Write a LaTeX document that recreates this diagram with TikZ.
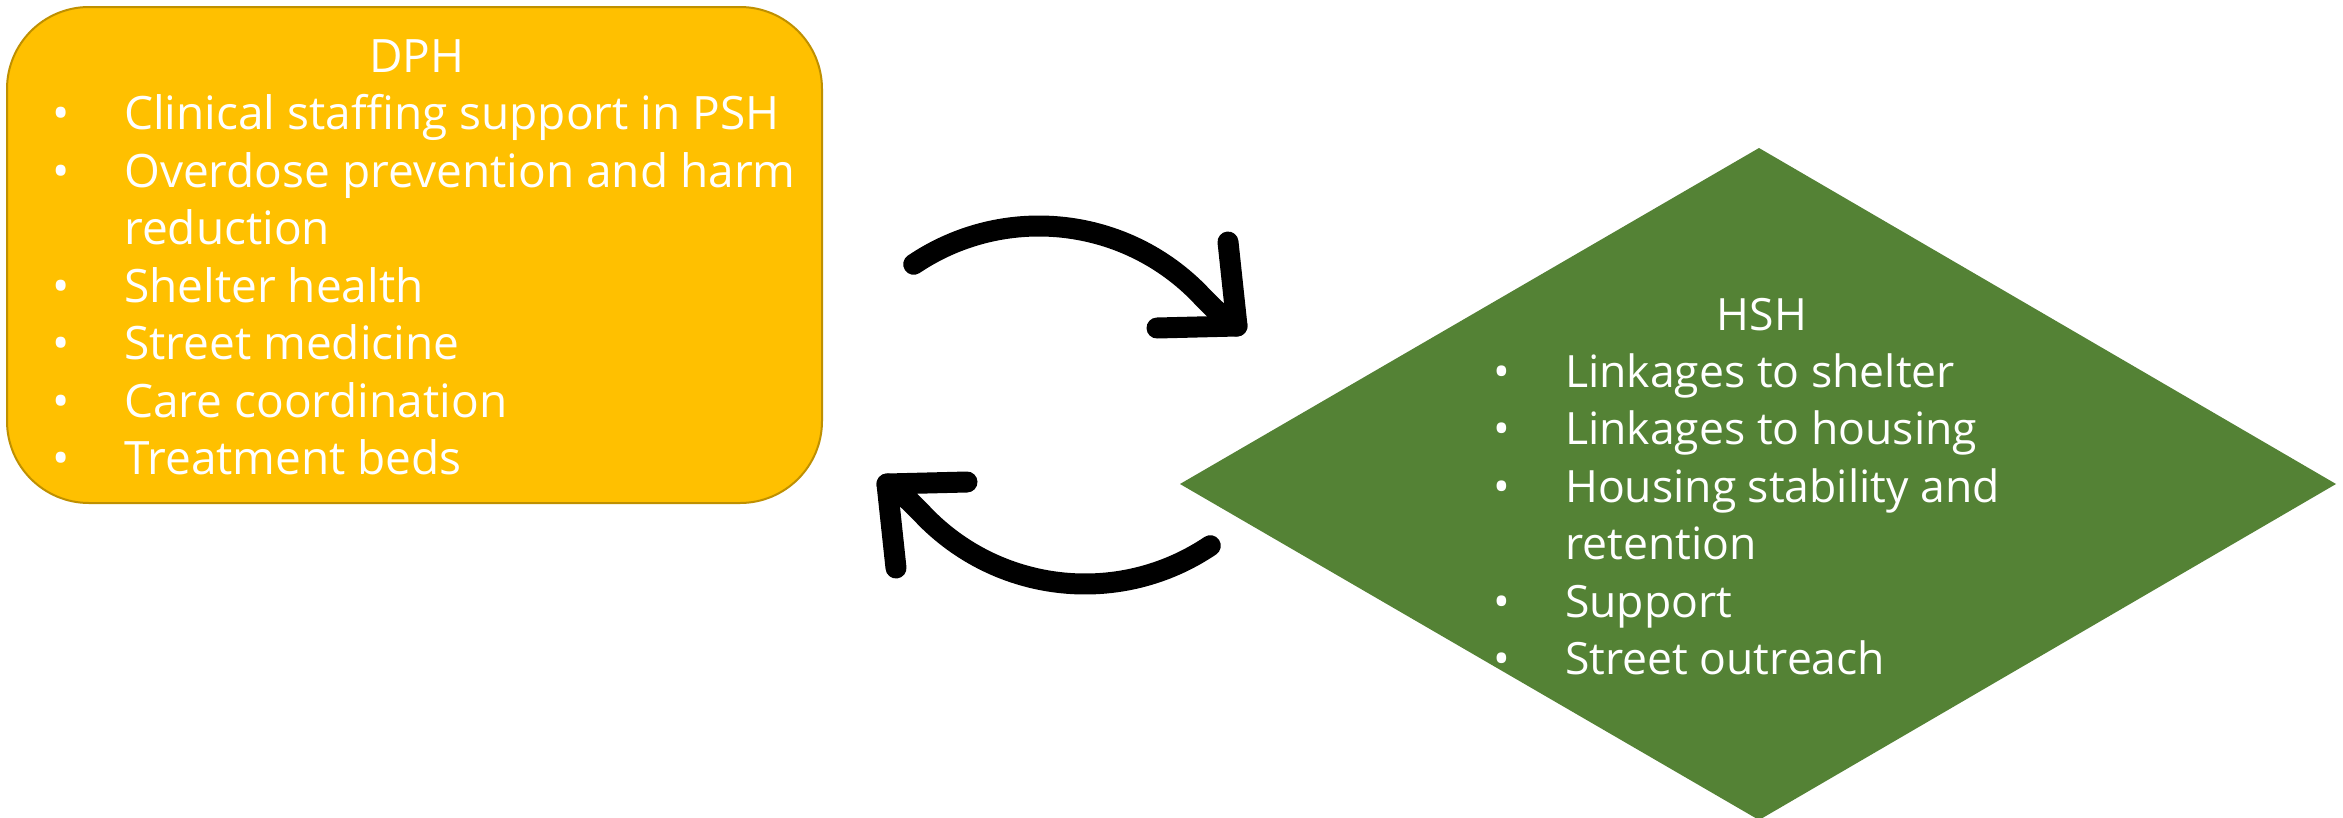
\documentclass[tikz,border=0pt]{standalone}
\usepackage{fontspec}
\setmainfont{Open Sans}
\definecolor{dphfill}{HTML}{FFC000}
\definecolor{dphline}{HTML}{BF9000}
\definecolor{hshfill}{HTML}{548235}
\begin{document}
\begin{tikzpicture}[x=1pt,y=-1pt,
  txt/.style={text=white,font=\fontsize{44.5}{57.4}\selectfont,inner sep=0pt},
  dtxt/.style={text=white,font=\fontsize{46}{57.4}\selectfont,inner sep=0pt},
  dphbox/.style={draw=dphline,line width=2pt,fill=dphfill,rounded corners=82pt,
    minimum width=815pt,minimum height=496pt,inner sep=0pt},
  cyc/.style={line width=21pt,line cap=round,line join=round,draw=black}]
\useasboundingbox[fill=white] (0,0) rectangle (2343,817);
% DPH box
\node[dphbox] (dph) at (414.5,255) {};
\node[dtxt,anchor=base] (dt) at (417,72) {DPH};
\foreach \i/\y/\t in {1/129/Clinical staffing support in PSH,
                      2/187/Overdose prevention and harm,
                      4/302/Shelter health,
                      5/359/Street medicine,
                      6/417/Care coordination,
                      7/474/Treatment beds}{
  \node[dtxt,anchor=base] (db\i) at (61,\y) {•};
  \node[dtxt,anchor=base west] (dl\i) at (124,\y) {\t};
}
\node[dtxt,anchor=base west] (dl3) at (124,244) {reduction};
% HSH diamond
\coordinate (hl) at (1180,484);
\coordinate (ht) at (1759,148);
\coordinate (hr) at (2336,484);
\coordinate (hb) at (1759,820);
\fill[hshfill] (hl) -- (ht) -- (hr) -- (hb) -- cycle;
\node[txt,anchor=base] (ht0) at (1762,330) {HSH};
\foreach \i/\y/\t in {1/387/Linkages to shelter,
                      2/444/Linkages to housing,
                      3/502/Housing stability and,
                      5/617/Support,
                      6/674/Street outreach}{
  \node[txt,anchor=base] (hb\i) at (1502,\y) {•};
  \node[txt,anchor=base west] (hl\i) at (1565,\y) {\t};
}
\node[txt,anchor=base west] (hl4) at (1565,559) {retention};
% cycle arrows
\coordinate (a1s) at (913.7,264.3);
\coordinate (a1t) at (1237,326);
\coordinate (a1h) at (1228,242);
\coordinate (a1l) at (1157,328);
\draw[cyc] (a1s) arc[start angle=-124,end angle=-45,radius=224]
  .. controls (1217,312) .. (a1t);
\draw[cyc] (a1h) -- (a1t) -- (a1l);
\coordinate (a2s) at (1210.3,545.7);
\coordinate (a2t) at (887,484);
\coordinate (a2h) at (896,568);
\coordinate (a2r) at (967,482);
\draw[cyc] (a2s) arc[start angle=56,end angle=135,radius=224]
  .. controls (907,498) .. (a2t);
\draw[cyc] (a2h) -- (a2t) -- (a2r);
\end{tikzpicture}
\end{document}
